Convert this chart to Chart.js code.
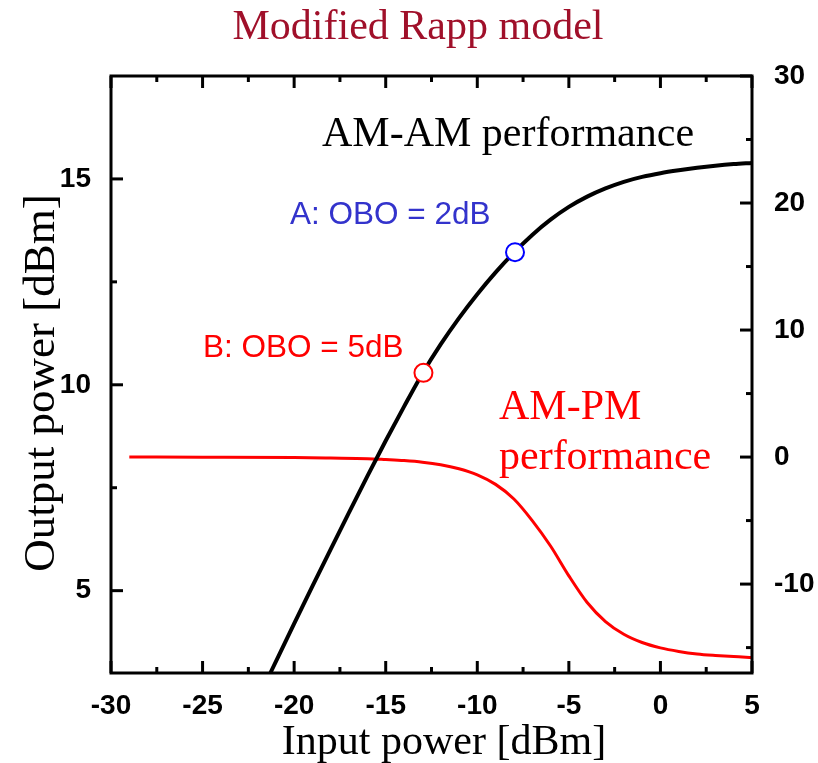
<!DOCTYPE html>
<html>
<head>
<meta charset="utf-8">
<script src="https://cdn.jsdelivr.net/npm/chart.js@4.4.1/dist/chart.umd.min.js"></script>
<style>
  html, body { margin: 0; padding: 0; background: #fff; }
  canvas { display: block; }
</style>
</head>
<body>
<canvas id="chart" width="818" height="763"></canvas>
<script>
// AM-AM curve, output power on the left axis [dBm]
const amAmInput  = [-21.3, -20, -19, -18, -17, -16, -15, -14, -13, -12, -11, -10, -9, -8, -7, -6, -5, -4, -3, -2, -1, 0, 1, 2, 3, 4, 5];
const amAmOutput = [3.0, 4.2, 5.11, 6.01, 6.9, 7.78, 8.64, 9.47, 10.27, 10.98, 11.62, 12.2, 12.73, 13.21, 13.64, 14.01, 14.32, 14.57, 14.77, 14.93, 15.05, 15.14, 15.21, 15.27, 15.32, 15.36, 15.39];

// AM-PM curve, phase on the right axis [deg]
const amPmInput = [-29, -25, -20, -18, -16, -15, -14, -13, -12, -11, -10, -9, -8, -7, -6, -5, -4, -3, -2, -1, 0, 1, 2, 3, 4, 5];
const amPmPhase = [0, -0.01, -0.04, -0.08, -0.13, -0.2, -0.28, -0.4, -0.6, -0.92, -1.4, -2.15, -3.3, -5.0, -7.0, -9.35, -11.45, -12.95, -13.95, -14.6, -15.02, -15.3, -15.5, -15.62, -15.71, -15.77];

// operating points
const pointA = { x: -7.94, y: 13.22 };
const pointB = { x: -12.94, y: 10.29 };

// ticks
const xTicks = [-30, -25, -20, -15, -10, -5, 0, 5];
const xMinorTicks = [-27.5, -22.5, -17.5, -12.5, -7.5, -2.5, 2.5];
const yTicks = [5, 10, 15];
const yMinorTicks = [7.5, 12.5];
const y2Ticks = [-10, 0, 10, 20, 30];
const y2MinorTicks = [-15, -5, 5, 15, 25];

const serif = '"Liberation Serif", "Times New Roman", serif';
const sans = '"Liberation Sans", Arial, sans-serif';
const tickFont = { family: sans, size: 28, weight: 'bold' };

const toPoints = (xs, ys) => xs.map((x, i) => ({ x: x, y: ys[i] }));

const frameAndText = {
  id: 'frameAndText',
  afterDraw(chart) {
    const { ctx, chartArea: a, scales } = chart;
    ctx.save();
    ctx.strokeStyle = '#000';
    ctx.lineWidth = 3;
    ctx.strokeRect(a.left, a.top, a.right - a.left, a.bottom - a.top);

    // inward ticks
    const tick = (x1, y1, x2, y2) => {
      ctx.beginPath(); ctx.moveTo(x1, y1); ctx.lineTo(x2, y2); ctx.stroke();
    };
    xTicks.forEach(v => {
      const px = scales.x.getPixelForValue(v);
      tick(px, a.bottom, px, a.bottom - 12);
      tick(px, a.top, px, a.top + 12);
    });
    xMinorTicks.forEach(v => {
      const px = scales.x.getPixelForValue(v);
      tick(px, a.bottom, px, a.bottom - 6);
      tick(px, a.top, px, a.top + 6);
    });
    yTicks.forEach(v => {
      const py = scales.y.getPixelForValue(v);
      tick(a.left, py, a.left + 12, py);
    });
    yMinorTicks.forEach(v => {
      const py = scales.y.getPixelForValue(v);
      tick(a.left, py, a.left + 6, py);
    });
    y2Ticks.forEach(v => {
      const py = scales.y2.getPixelForValue(v);
      tick(a.right, py, a.right - 12, py);
    });
    y2MinorTicks.forEach(v => {
      const py = scales.y2.getPixelForValue(v);
      tick(a.right, py, a.right - 6, py);
    });

    // title and axis titles
    ctx.textBaseline = 'alphabetic';
    ctx.font = '42px ' + serif;
    ctx.fillStyle = '#a0102a';
    ctx.textAlign = 'center';
    ctx.fillText('Modified Rapp model', 418, 39);

    ctx.fillStyle = '#000';
    ctx.fillText('Input power [dBm]', 444, 754);
    ctx.save();
    ctx.font = '45px ' + serif;
    ctx.translate(54, 383);
    ctx.rotate(-Math.PI / 2);
    ctx.fillText('Output power [dBm]', 0, 0);
    ctx.restore();

    // annotations
    ctx.textAlign = 'left';
    ctx.fillStyle = '#000';
    ctx.fillText('AM-AM performance', 322, 146);
    ctx.fillStyle = '#ff0000';
    ctx.fillText('AM-PM', 499, 419);
    ctx.fillText('performance', 499, 469);

    ctx.font = '31.5px ' + sans;
    ctx.fillStyle = '#3333cc';
    ctx.fillText('A: OBO = 2dB', 290, 224);
    ctx.fillStyle = '#ff0000';
    ctx.fillText('B: OBO = 5dB', 203, 357);
    ctx.restore();
  }
};

new Chart(document.getElementById('chart'), {
  type: 'line',
  data: {
    datasets: [
      {
        type: 'scatter', data: [pointA], yAxisID: 'y',
        pointRadius: 9, pointBackgroundColor: '#fff', pointBorderColor: '#0000ff', pointBorderWidth: 2
      },
      {
        type: 'scatter', data: [pointB], yAxisID: 'y',
        pointRadius: 9, pointBackgroundColor: '#fff', pointBorderColor: '#ff0000', pointBorderWidth: 2
      },
      {
        label: 'AM-AM', data: toPoints(amAmInput, amAmOutput), yAxisID: 'y',
        borderColor: '#000', borderWidth: 4, pointRadius: 0, cubicInterpolationMode: 'monotone'
      },
      {
        label: 'AM-PM', data: toPoints(amPmInput, amPmPhase), yAxisID: 'y2',
        borderColor: '#ff0000', borderWidth: 3, pointRadius: 0, cubicInterpolationMode: 'monotone'
      }
    ]
  },
  options: {
    responsive: false,
    animation: false,
    layout: { padding: { top: 76, left: 0, right: 0, bottom: 0 } },
    plugins: { legend: { display: false }, tooltip: { enabled: false } },
    scales: {
      x: {
        type: 'linear', position: 'bottom', min: -30, max: 5,
        afterBuildTicks: s => { s.ticks = xTicks.map(v => ({ value: v })); },
        afterFit: s => { s.height = 90; },
        grid: { display: false }, border: { display: false },
        ticks: { font: tickFont, color: '#000', padding: 8, maxRotation: 0, autoSkip: false }
      },
      y: {
        type: 'linear', position: 'left', min: 3, max: 17.5,
        afterBuildTicks: s => { s.ticks = yTicks.map(v => ({ value: v })); },
        afterFit: s => { s.width = 111; },
        grid: { display: false }, border: { display: false },
        ticks: { font: tickFont, color: '#000', padding: 12 }
      },
      y2: {
        type: 'linear', position: 'right', min: -17, max: 30,
        afterBuildTicks: s => { s.ticks = y2Ticks.map(v => ({ value: v })); },
        afterFit: s => { s.width = 66; },
        grid: { display: false }, border: { display: false },
        ticks: { font: tickFont, color: '#000', padding: 14 }
      }
    }
  },
  plugins: [frameAndText]
});
</script>
</body>
</html>
